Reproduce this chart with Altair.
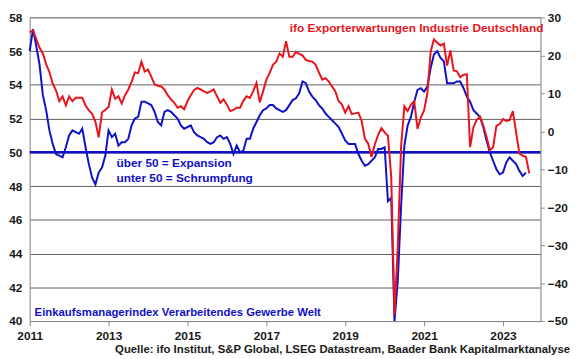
import altair as alt
import pandas as pd

# Global manufacturing PMI (left axis), monthly from Jan 2011
pmi = [
    56.0, 57.3, 56.3, 55.2, 53.4, 52.5, 51.3, 50.5, 49.9, 49.8, 49.7, 50.3,   # 2011
    51.0, 51.3, 51.2, 51.1, 51.4, 50.3, 49.3, 48.5, 48.1, 48.8, 49.1, 49.8,   # 2012
    51.3, 50.9, 51.1, 50.4, 50.6, 50.6, 50.8, 51.6, 52.0, 52.1, 53.0, 53.0,   # 2013
    52.9, 52.8, 52.4, 51.8, 51.6, 52.4, 52.5, 52.4, 52.2, 52.0, 51.6, 51.4,   # 2014
    51.5, 51.6, 51.2, 51.0, 50.9, 50.8, 50.6, 50.5, 50.6, 50.9, 51.0, 50.8,   # 2015
    50.9, 50.5, 49.9, 50.4, 50.0, 50.1, 50.8, 50.8, 51.4, 51.8, 52.2, 52.5,   # 2016
    52.6, 52.8, 52.8, 52.6, 52.5, 52.4, 52.5, 52.8, 53.1, 53.2, 53.5, 54.2,   # 2017
    54.1, 53.6, 53.3, 53.1, 52.8, 52.6, 52.3, 52.1, 51.9, 51.7, 51.5, 51.1,   # 2018
    50.7, 50.5, 50.5, 50.5, 49.9, 49.5, 49.2, 49.3, 49.5, 49.7, 50.2, 50.2,   # 2019
    50.3, 47.1, 47.3, 40.0, 42.4, 46.8, 50.4, 51.6, 52.1, 53.0, 53.7, 53.8,   # 2020
    53.6, 53.9, 55.0, 55.8, 56.0, 55.6, 55.4, 54.1, 54.1, 54.1, 54.2, 54.2,   # 2021
    53.8, 53.3, 53.0, 52.5, 52.3, 52.1, 51.5, 50.7, 50.0, 49.5, 49.0, 48.7,   # 2022
    48.8, 49.4, 49.7, 49.5, 49.3, 48.9, 48.6, 48.8,                           # 2023
]

# ifo export expectations, German industry (right axis), monthly from Jan 2011
ifo = [
    26.1, 26.5, 24.3, 22.0, 20.5, 17.7, 15.6, 12.6, 10.8, 7.9, 9.2, 6.8,      # 2011
    9.2, 7.9, 8.8, 8.8, 8.8, 6.8, 5.5, 4.6, 2.5, -1.6, 5.0, 5.6,              # 2012
    6.4, 11.0, 8.6, 9.2, 7.3, 9.5, 11.0, 13.0, 15.5, 15.3, 18.3, 15.7,        # 2013
    16.2, 14.4, 12.3, 12.0, 11.8, 11.0, 9.5, 8.4, 7.5, 6.2, 6.6, 5.8,         # 2014
    7.9, 9.5, 10.8, 11.4, 11.0, 10.5, 10.1, 10.5, 11.0, 9.2, 7.5, 8.4,        # 2015
    7.0, 5.3, 5.6, 6.2, 6.2, 8.0, 9.2, 8.8, 10.5, 12.7, 7.6, 10.5,            # 2016
    13.6, 15.3, 17.5, 18.3, 20.5, 19.6, 23.7, 19.6, 19.6, 20.9, 20.4, 20.0,   # 2017
    18.8, 18.5, 18.3, 17.5, 15.5, 13.6, 14.0, 13.1, 11.8, 10.5, 7.9, 7.1,     # 2018
    4.9, 6.6, 4.5, 4.7, 4.9, 2.7, -2.0, -3.3, -6.8, -3.5, -1.0, 0.8,          # 2019
    -0.3, -1.2, -12.0, -48.4, -30.0, -4.0, 6.6, 5.3, 7.0, 7.9, 0.6, 3.6,      # 2020
    5.5, 10.0, 21.0, 24.2, 23.3, 22.6, 23.1, 17.3, 21.3, 16.0, 15.8, 14.2,    # 2021
    14.9, 15.0, -4.2, 1.0, 3.0, 3.8, 1.5, -1.5, -5.0, -4.2, 1.4, 1.9,         # 2022
    3.2, 2.7, 2.9, 5.3, -0.3, -5.9, -6.4, -6.8, -11.1,                        # 2023
]

year_ticks = [2011, 2013, 2015, 2017, 2019, 2021, 2023]
left_ticks = [40, 42, 44, 46, 48, 50, 52, 54, 56, 58]
right_ticks = [-50, -40, -30, -20, -10, 0, 10, 20, 30]
threshold = [50]

title_red = "ifo Exporterwartungen Industrie Deutschland"
title_blue = "Einkaufsmanagerindex Verarbeitendes Gewerbe Welt"
note1 = "über 50 = Expansion"
note2 = "unter 50 = Schrumpfung"
source = "Quelle: ifo Institut, S&P Global, LSEG Datastream, Baader Bank Kapitalmarktanalyse"

BLUE = "#1010c8"
RED = "#e8141c"
FONT = "Liberation Sans"
W, H = 518, 308

df_pmi = pd.DataFrame({"t": [2011 + i / 12 for i in range(len(pmi))], "v": pmi})
df_ifo = pd.DataFrame({"t": [2011 + i / 12 for i in range(len(ifo))], "w": ifo})
df_thr = pd.DataFrame({"v": threshold})

x_enc = alt.X(
    "t:Q",
    scale=alt.Scale(domain=[2011, 2023.95], nice=False, zero=False),
    axis=alt.Axis(values=year_ticks, format="d", title=None, grid=False,
                  domainColor="#8c8c8c", tickColor="#8c8c8c", tickSize=5,
                  labelPadding=5, labelFlush=False, labelFont=FONT, labelFontSize=12,
                  labelFontWeight="bold", labelColor="#1a1a1a"),
)

left_scale = alt.Scale(domain=[40, 58], nice=False, zero=False)
left_axis = alt.Axis(values=left_ticks, title=None, grid=True, gridColor="#606060",
                     gridWidth=1, ticks=False, domainColor="#8c8c8c", labelPadding=8,
                     labelFont=FONT, labelFontSize=12, labelFontWeight="bold",
                     labelColor="#1a1a1a", orient="left")

rule50 = alt.Chart(df_thr).mark_rule(color=BLUE, strokeWidth=2.5).encode(
    y=alt.Y("v:Q", scale=left_scale, axis=left_axis)
)
blue = alt.Chart(df_pmi).mark_line(color=BLUE, strokeWidth=2).encode(
    x=x_enc, y=alt.Y("v:Q", scale=left_scale, axis=left_axis)
)
left = alt.layer(rule50, blue)

red = alt.Chart(df_ifo).mark_line(color=RED, strokeWidth=2).encode(
    x=x_enc,
    y=alt.Y("w:Q", scale=alt.Scale(domain=[-50, 30], nice=False, zero=False),
            axis=alt.Axis(values=right_ticks, title=None, grid=False, orient="right",
                          domainColor="#8c8c8c", tickColor="#8c8c8c", tickSize=4,
                          labelPadding=3, labelFont=FONT, labelFontSize=12,
                          labelFontWeight="bold", labelColor="#1a1a1a")),
)


def label(text, color, align, px, py, size=12):
    return alt.Chart(pd.DataFrame({"s": [text]})).mark_text(
        align=align, baseline="middle", color=color, font=FONT, fontSize=size,
        fontWeight="bold"
    ).encode(x=alt.value(px), y=alt.value(py), text="s:N")


texts = [
    label(title_red, RED, "right", 521, 11),
    label(title_blue, BLUE, "left", 5, 300, 11.5),
    label(note1, BLUE, "left", 88, 148),
    label(note2, BLUE, "left", 88, 163),
    label(source, "#1a1a1a", "right", 548, 337, 11.5),
]

chart = alt.layer(left, red, *texts).resolve_scale(y="independent").properties(
    width=W, height=H,
    autosize=alt.AutoSizeParams(type="none"),
    padding={"left": 22, "top": 7, "right": 32, "bottom": 36},
).configure_view(stroke=None).configure(background="white")

chart.save("out.html", embed_options={"renderer": "svg", "actions": False})
